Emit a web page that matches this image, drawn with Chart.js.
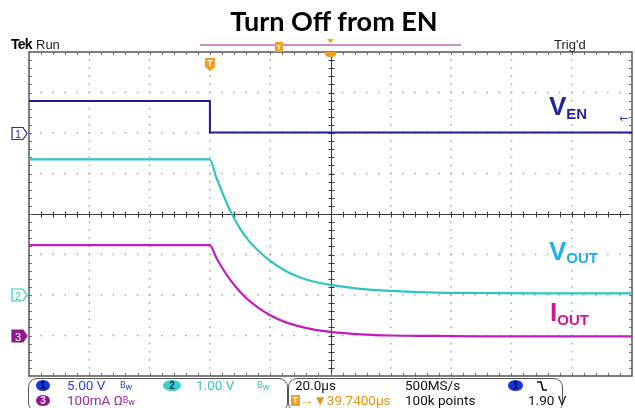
<!DOCTYPE html>
<html><head><meta charset="utf-8">
<script src="https://cdn.jsdelivr.net/npm/chart.js@4.4.0/dist/chart.umd.min.js"></script>
<style>
html,body{margin:0;padding:0;background:#fff;}
#wrap{position:relative;width:635px;height:408px;overflow:hidden;font-family:Roboto,"Liberation Sans",sans-serif;}
#c{position:absolute;left:0;top:0;}
.a{position:absolute;white-space:nowrap;line-height:1;}
.lbl{font-family:"Liberation Sans",Arial,sans-serif;font-weight:bold;font-size:26px;}
.lbl span{font-size:15px;position:relative;}
.box{position:absolute;border:1.5px solid #555;border-radius:9px;box-sizing:border-box;}
.pill{position:absolute;border-radius:50%;font:bold 10px "Liberation Sans",sans-serif;text-align:center;line-height:11px;height:11px;}
.st{position:absolute;font-size:13.5px;line-height:1;white-space:nowrap;}
.bw{font-size:9px;}
</style></head>
<body><div id="wrap">
<canvas id="c" width="635" height="408"></canvas>

<div class="a" style="left:0;width:668px;text-align:center;top:4px;font:bold 27px Lato,'Open Sans',sans-serif;color:#000;">Turn Off from EN</div>

<div class="a" style="left:11px;top:36px;font:bold 14px 'Liberation Sans',sans-serif;letter-spacing:-0.8px;">Tek</div>
<div class="a" style="left:36px;top:37px;font:13px 'Liberation Sans',sans-serif;color:#222;">Run</div>
<div class="a" style="left:554px;top:37px;font:13px 'Liberation Sans',sans-serif;color:#222;">Trig'd</div>

<div class="a lbl" style="left:549px;top:93px;color:#25259a;">V<span style="top:4px">EN</span></div>
<div class="a lbl" style="left:549px;top:238px;color:#1cb2e6;">V<span style="top:3px">OUT</span></div>
<div class="a lbl" style="left:550px;top:299px;color:#d3178f;">I<span style="top:4px">OUT</span></div>

<div class="box" style="left:28px;top:378px;width:260px;height:34px;"></div>
<div class="box" style="left:288px;top:378px;width:275px;height:34px;"></div>

<div class="pill" style="left:36px;top:380px;width:14px;background:#1336e0;color:#001;">1</div>
<div class="st" style="left:67px;top:379px;color:#2a44d0;">5.00 V</div>
<div class="st" style="left:120px;top:379px;color:#2a44d0;"><span class="bw" style="position:relative;top:-2px">B</span><span class="bw">w</span></div>
<div class="pill" style="left:163px;top:380px;width:18px;background:#35d0d0;color:#033;">2</div>
<div class="st" style="left:196px;top:379px;color:#30c6c8;">1.00 V</div>
<div class="st" style="left:257px;top:379px;color:#30c6c8;"><span class="bw" style="position:relative;top:-2px">B</span><span class="bw">w</span></div>

<div class="pill" style="left:36px;top:395px;width:14px;background:#8c1a8c;color:#fdf;">3</div>
<div class="st" style="left:67px;top:394px;color:#9a2a9a;">100mA Ω<span class="bw" style="position:relative;top:-2px">B</span><span class="bw">w</span></div>

<div class="st" style="left:295px;top:379px;color:#111;">20.0µs</div>
<div class="st" style="left:405px;top:379px;color:#111;">500MS/s</div>
<div class="pill" style="left:508px;top:380px;width:15px;background:#1336e0;color:#001;">1</div>
<svg class="a" style="left:536px;top:380px" width="12" height="12"><path d="M1,2 H5 L7,10 H11" stroke="#111" stroke-width="1.6" fill="none"/></svg>

<div class="a" style="left:291px;top:395px;width:9px;height:11px;background:#f0a020;color:#fff;font:bold 9px 'Liberation Sans';text-align:center;line-height:11px;">T</div>
<div class="st" style="left:300px;top:394px;color:#e8920e;">→▼39.7400µs</div>
<div class="st" style="left:405px;top:394px;color:#111;">100k points</div>
<div class="st" style="left:528px;top:394px;color:#111;">1.90 V</div>

<svg class="a" style="left:0;top:0" width="635" height="80">
  <line x1="200" y1="45" x2="461" y2="45" stroke="#c98ccf" stroke-width="2"/>
  <rect x="275" y="42" width="8" height="10" fill="#f0a020"/>
  <text x="279" y="50" font-size="8" font-family="Liberation Sans" font-weight="bold" fill="#fff" text-anchor="middle">T</text>
  <path d="M327,39 L334,39 L330.5,43 Z" fill="#f0a020"/>
  <path d="M325,52 L336,52 L336,55 Q330.5,60 325,55 Z" fill="#f0a020"/>
  <path d="M205,58 L215,58 L215,67 L210,71 L205,67 Z" fill="#f0a020"/>
  <text x="210" y="66" font-size="9" font-family="Liberation Sans" font-weight="bold" fill="#fff" text-anchor="middle">T</text>
</svg>

<svg class="a" style="left:0;top:100px" width="30" height="260">
  <path d="M12,27.5 L23,27.5 L27,33.5 L23,39.5 L12,39.5 Z" fill="#fff" stroke="#2a2a9c" stroke-width="1.2"/>
  <text x="18" y="38" font-size="11" font-family="Liberation Sans" fill="#2a2a9c" text-anchor="middle">1</text>
  <path d="M12,189 L23,189 L27,195 L23,201 L12,201 Z" fill="#fff" stroke="#30c6c8" stroke-width="1.2"/>
  <text x="18" y="199.5" font-size="11" font-family="Liberation Sans" fill="#30c6c8" text-anchor="middle">2</text>
  <path d="M12,230 L23,230 L27,236 L23,242 L12,242 Z" fill="#8c1a8c" stroke="#8c1a8c" stroke-width="1.2"/>
  <text x="18" y="240.5" font-size="11" font-family="Liberation Sans" fill="#fff" text-anchor="middle">3</text>
</svg>
<div class="a" style="left:619px;top:112px;font:11px 'DejaVu Sans';color:#2a44d0;">←</div>
</div>
<script>
// time axis in µs, trigger at 0; 20 µs/div, 10 div
const TIME_MIN = -60, TIME_MAX = 140;
// channel 1 (VEN) 5 V/div, ground +2 div; ch2 (VOUT) 1 V/div, ground -2 div; ch3 (IOUT) 100 mA/div, ground -3 div
const CH1_RANGE = [-30, 10];
const CH2_RANGE = [-2, 6];
const CH3_RANGE = [-100, 700];

const VEN_T = [-60, 0, 0, 140];
const VEN_V = [3.95, 3.95, 0.06, 0.06];

const OUT_T = [-60, 0, 2, 4, 7, 10, 13, 16, 20, 25, 30, 35, 40, 50, 60, 75, 90, 110, 140];
const VOUT_V = [3.35, 3.35, 2.93, 2.55, 2.04, 1.64, 1.33, 1.10, 0.84, 0.60, 0.43, 0.32, 0.25, 0.15, 0.10, 0.06, 0.05, 0.04, 0.04];
const IOUT_MA = [223, 223, 194, 168, 135, 108, 86, 69, 50, 33, 22, 14, 9, 3, 0, -1, -2, -2, -2];

const pts = (t, v) => t.map((x, i) => ({x, y: v[i]}));

const graticule = {
  id: 'graticule',
  beforeDatasetsDraw(chart) {
    const {ctx, chartArea: {left, right, top, bottom}} = chart;
    const w = right - left, h = bottom - top, dx = w / 10, dy = h / 8;
    ctx.save();
    ctx.fillStyle = '#a6a6a6';
    for (let i = 1; i < 10; i++) {
      if (i === 5) continue;
      const x = left + i * dx;
      for (let j = 1; j < 40; j++) ctx.fillRect(x - 0.75, top + j * dy / 5 - 0.75, 1.5, 1.5);
    }
    for (let j = 1; j < 8; j++) {
      if (j === 4) continue;
      const y = top + j * dy;
      for (let i = 1; i < 50; i++) ctx.fillRect(left + i * dx / 5 - 0.75, y - 0.75, 1.5, 1.5);
    }
    ctx.strokeStyle = '#3a3a3a';
    ctx.lineWidth = 1;
    const cx = Math.round(left + 5 * dx) + 0.5, cy = Math.round(top + 4 * dy) + 0.5;
    ctx.beginPath();
    ctx.moveTo(cx, top); ctx.lineTo(cx, bottom);
    ctx.moveTo(left, cy); ctx.lineTo(right, cy);
    for (let i = 1; i < 50; i++) { const x = Math.round(left + i * dx / 5) + 0.5; ctx.moveTo(x, cy - 3); ctx.lineTo(x, cy + 3); }
    for (let j = 1; j < 40; j++) { const y = Math.round(top + j * dy / 5) + 0.5; ctx.moveTo(cx - 3, y); ctx.lineTo(cx + 3, y); }
    ctx.stroke();
    ctx.strokeStyle = '#777';
    ctx.beginPath();
    for (let i = 1; i < 50; i++) { const x = Math.round(left + i * dx / 5) + 0.5; ctx.moveTo(x, top); ctx.lineTo(x, top + 3); ctx.moveTo(x, bottom); ctx.lineTo(x, bottom - 3); }
    for (let j = 1; j < 40; j++) { const y = Math.round(top + j * dy / 5) + 0.5; ctx.moveTo(left, y); ctx.lineTo(left + 3, y); ctx.moveTo(right, y); ctx.lineTo(right - 3, y); }
    ctx.stroke();
    ctx.strokeStyle = '#555';
    ctx.lineWidth = 1.5;
    ctx.strokeRect(left, top, w, h);
    ctx.restore();
  }
};

new Chart(document.getElementById('c'), {
  type: 'line',
  data: {
    datasets: [
      {label: 'VEN', data: pts(VEN_T, VEN_V), yAxisID: 'y', borderColor: '#1c1c9c', borderWidth: 2, tension: 0, pointRadius: 0},
      {label: 'VOUT', data: pts(OUT_T, VOUT_V), yAxisID: 'y2', borderColor: '#2ec4c6', borderWidth: 2.2, cubicInterpolationMode: 'monotone', pointRadius: 0},
      {label: 'IOUT', data: pts(OUT_T, IOUT_MA), yAxisID: 'y3', borderColor: '#c31cbe', borderWidth: 2.2, cubicInterpolationMode: 'monotone', pointRadius: 0}
    ]
  },
  options: {
    responsive: false,
    animation: false,
    devicePixelRatio: 1,
    layout: {padding: {left: 29, right: 3, top: 52, bottom: 32}},
    plugins: {legend: {display: false}, title: {display: false}, tooltip: {enabled: false}},
    scales: {
      x: {type: 'linear', min: TIME_MIN, max: TIME_MAX, display: false},
      y: {min: CH1_RANGE[0], max: CH1_RANGE[1], display: false},
      y2: {min: CH2_RANGE[0], max: CH2_RANGE[1], display: false},
      y3: {min: CH3_RANGE[0], max: CH3_RANGE[1], display: false}
    }
  },
  plugins: [graticule]
});
</script>
</body></html>
